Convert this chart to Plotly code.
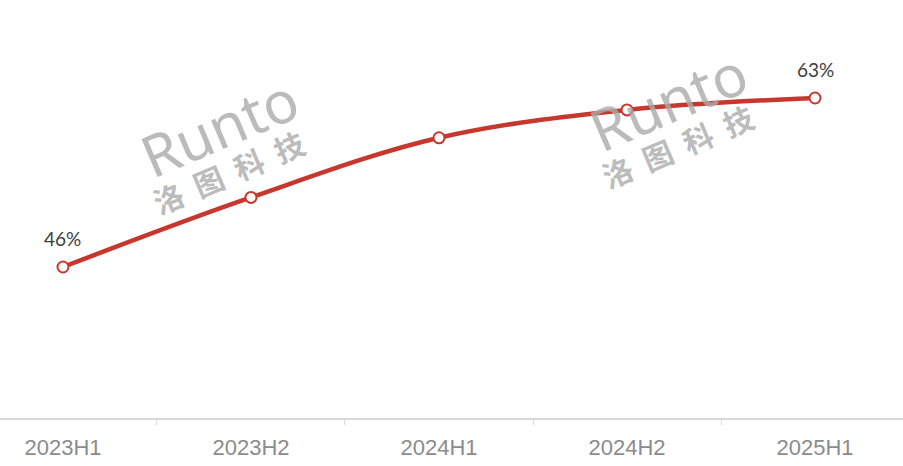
import plotly.graph_objects as go

categories = ["2023H1", "2023H2", "2024H1", "2024H2", "2025H1"]
values = [46, 53, 59, 61.8, 63]
label_texts = ["46%", "", "", "", "63%"]

W, H = 903, 466
PLOT_H = 418

fig = go.Figure()
fig.add_trace(go.Scatter(
    x=categories, y=values,
    mode="lines+markers",
    line=dict(color="#c8372d", width=4.5, shape="spline", smoothing=1.0),
    marker=dict(size=11, color="white", line=dict(color="#c8372d", width=2)),
    cliponaxis=False, hoverinfo="skip",
))

for c, v, t in zip(categories, values, label_texts):
    if t:
        fig.add_annotation(
            x=c, y=v, text=t, showarrow=False, yshift=29,
            font=dict(family="Lato", size=19, color="#404040"),
            xanchor="center", yanchor="middle",
        )

def wm(px, py, text, size, family, weight):
    fig.add_annotation(
        x=px / W, y=1 - py / PLOT_H, xref="paper", yref="paper",
        text=text, showarrow=False, textangle=-23,
        font=dict(family=family, size=size, color="rgba(170,170,170,0.8)", weight=weight),
        xanchor="center", yanchor="middle",
    )

for dx, dy in [(0, 0), (449, -26)]:
    wm(219 + dx, 126 + dy, "Runto", 58, "Noto Sans", "normal")
    wm(228 + dx, 172 + dy, "洛  图  科  技", 30, "Noto Sans CJK SC", "bold")

fig.update_layout(
    width=W, height=H,
    margin=dict(l=0, r=0, t=0, b=H - PLOT_H, autoexpand=False),
    paper_bgcolor="white", plot_bgcolor="white",
    showlegend=False,
    xaxis=dict(
        type="category", range=[-0.335, 4.468],
        showgrid=False, zeroline=False,
        showline=True, linecolor="#d9d9d9", linewidth=2,
        ticks="outside", tickson="boundaries", ticklen=5, tickcolor="#d9d9d9", tickwidth=1,
        tickfont=dict(family="Liberation Sans", size=22, color="#8c8c8c"),
        ticklabelstandoff=9,
    ),
    yaxis=dict(
        range=[30.81, 72.86], visible=False, showgrid=False, zeroline=False,
    ),
)

fig.write_html("out.html", config={"displayModeBar": False},
               post_script="document.body.style.margin='0';")
